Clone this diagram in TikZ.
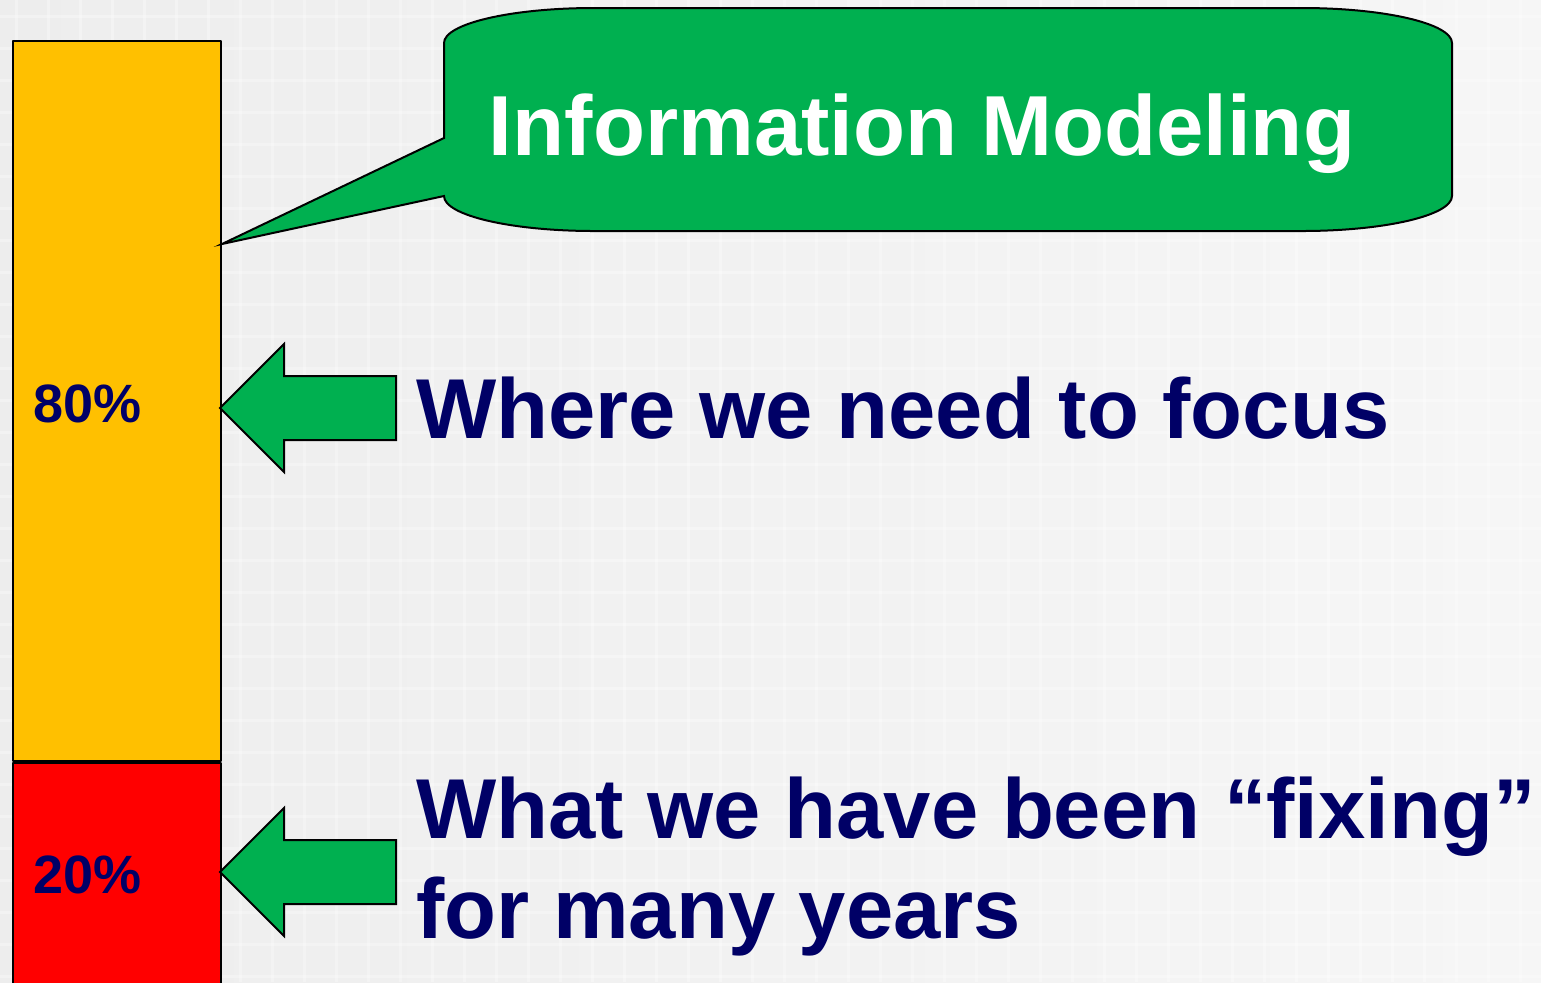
\documentclass[tikz,border=0pt]{standalone}
\usepackage{fontspec}
\setsansfont{Liberation Sans}
\usetikzlibrary{positioning}

\definecolor{navytext}{HTML}{000066}
\definecolor{calloutgreen}{HTML}{00B050}
\definecolor{baryellow}{HTML}{FFC000}
\definecolor{barred}{HTML}{FF0000}

\tikzset{
  barpart/.style={draw=black, line width=1pt, inner sep=0pt, minimum width=104pt, anchor=north west},
  greenshape/.style={draw=black, fill=calloutgreen, line width=1pt, line join=miter},
  pctlabel/.style={font=\sffamily\bfseries\fontsize{27}{30}\selectfont, text=navytext, inner sep=0pt, anchor=base west},
  biglabel/.style={font=\sffamily\bfseries\fontsize{42.5}{50}\selectfont, text=navytext, inner sep=0pt, anchor=base west},
}

\begin{document}
\begin{tikzpicture}[x=0.5pt,y=-0.5pt,line join=bevel]
\clip (0,0) rectangle (1541,982);
%% background
\shade[left color=gray!14, right color=gray!7] (0,0) rectangle (1541,982);
\foreach \g in {16,48,...,1541}
  \draw[white, opacity=0.3, line width=1.5pt] (\g,0) -- (\g,982);
\foreach \g in {16,48,...,982}
  \draw[white, opacity=0.3, line width=1.5pt] (0,\g) -- (1541,\g);
%% bar
  % Node: bar80
\node[barpart, fill=baryellow, minimum height=360pt] (bar80) at (12,40) {};
  % Node: bar20
\node[barpart, fill=barred, minimum height=130pt] (bar20) at (bar80.south west) {};
\node[pctlabel] (pct80) at (33,422) {80\%};
\node[pctlabel] (pct20) at (33,893) {20\%};
%% arrows
\coordinate (tipfocus) at (220,408);
\coordinate (tipfixing) at (220,872);
\foreach \t in {tipfocus,tipfixing}
  \draw[greenshape] (\t) -- ++(64,-64) -- ++(0,32) -- ++(112,0) -- ++(0,64)
    -- ++(-112,0) -- ++(0,32) -- cycle;
\node[biglabel] (focus) at (416,438) {Where we need to focus};
\node[biglabel] (fixing) at (416,838) {What we have been “fixing”};
\node[biglabel] (years) at ([yshift=-50pt]fixing.base west) {for many years};
%% callout
\draw[greenshape] (444,138) -- (444,43) .. controls (444,23.7) and (511,8) .. (594,8)
  -- (1302,8) .. controls (1385,8) and (1452,23.7) .. (1452,43)
  -- (1452,196) .. controls (1452,215.3) and (1385,231) .. (1302,231)
  -- (594,231) .. controls (511,231) and (444,215.3) .. (444,196)
  -- (bar80.east |- 0,244) -- cycle;
  % Node: callout
\node[font=\sffamily\bfseries\fontsize{42.6}{50}\selectfont, text=white, inner sep=0pt, anchor=base] (callout) at (922,155) {Information Modeling};
\end{tikzpicture}
\end{document}
